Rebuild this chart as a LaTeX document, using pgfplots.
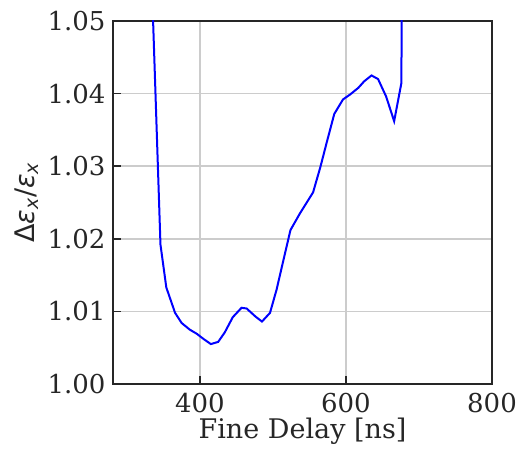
\documentclass[border=0pt]{standalone}
\usepackage{pgfplots}
\pgfplotsset{compat=1.18}
\usepackage{fontspec}
\setmainfont{DejaVu Serif}
\newfontfamily\dejasans{DejaVu Sans}
\definecolor{txt}{HTML}{262626}
\definecolor{gridc}{HTML}{CCCCCC}
\begin{document}
\begin{tikzpicture}[x=1pt,y=1pt]
\begin{axis}[
  scale only axis,
  width=379pt, height=363pt,
  xmin=281, xmax=800, ymin=1.00, ymax=1.05,
  xtick={400,600,800},
  ytick={1.00,1.01,1.02,1.03,1.04,1.05},
  scaled y ticks=false,
  yticklabel style={xshift=-4pt},
  y tick label style={/pgf/number format/fixed,/pgf/number format/fixed zerofill,/pgf/number format/precision=2},
  /pgf/number format/assume math mode=true,
  tick label style={font=\fontsize{26}{30}\selectfont, text=txt},
  xticklabel style={yshift=-6pt},
  label style={font=\fontsize{27}{31}\selectfont, text=txt},
  tick pos=left, tick align=inside,
  major tick length=8pt,
  every tick/.style={line width=1.6pt, color=txt},
  axis line style={line width=1.8pt, color=txt},
  grid=major,
  major grid style={line width=1.5pt, color=gridc},
  xlabel={Fine Delay [ns]},
  ylabel={{\dejasans Δ\textit{ε}\textsubscript{\textit{x}}/\textit{ε}\textsubscript{\textit{x}}}},
  xlabel style={yshift=2pt},
  ylabel style={yshift=2pt},
]
\addplot[blue, line width=2pt, mark=none] coordinates {
(330,1.068) (346,1.0192) (354,1.0133) (366,1.0098) (375,1.0084) (386,1.0075)
(396,1.0069) (405,1.0062) (415,1.0055) (425,1.0058) (434,1.0071) (445,1.0092)
(457,1.0105) (464,1.0104) (476,1.0093) (485,1.0086) (496,1.0098) (505,1.0130)
(514,1.0169) (524,1.0212) (537,1.0235) (555,1.0264) (565,1.0299) (574,1.0334)
(584,1.0372) (596,1.0392) (606,1.0399) (617,1.0408) (625,1.0417) (635,1.0425)
(644,1.0420) (655,1.0396) (666,1.0362) (676,1.0415) (677,1.10)
};
\end{axis}
\path (-113pt,-66pt) rectangle (408pt,384pt);
\end{tikzpicture}
\end{document}
